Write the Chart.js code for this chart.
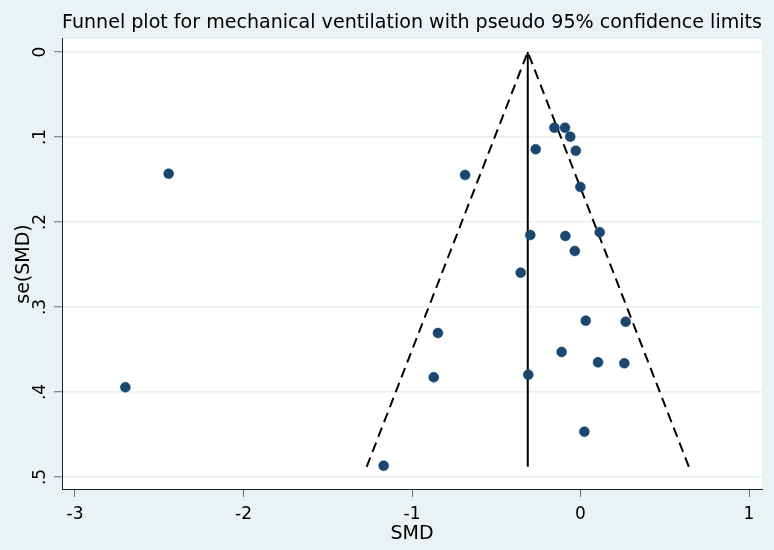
<!DOCTYPE html>
<html>
<head>
<meta charset="utf-8">
<script src="https://cdn.jsdelivr.net/npm/chart.js@4/dist/chart.umd.min.js"></script>
<style>
  html, body { margin: 0; padding: 0; background: #eaf2f3; }
  #wrap { width: 774px; height: 550px; }
</style>
</head>
<body>
<div id="wrap"><canvas id="c" width="774" height="550"></canvas></div>
<script>
// Study effect sizes (SMD) and their standard errors
const smd = [-0.155, -0.092, -0.061, -0.266, -0.028, -0.001, -0.298, -0.090, 0.114, -0.034,
             -0.355, -0.846, -0.871, -0.310, 0.031, 0.268, -0.112, 0.104, 0.260, 0.023,
             -2.444, -2.701, -0.685, -1.168];
const seSmd = [0.0891, 0.0891, 0.0996, 0.1145, 0.1161, 0.1588, 0.2153, 0.2165, 0.2121, 0.2341,
               0.2596, 0.3306, 0.3827, 0.3796, 0.3161, 0.3173, 0.3529, 0.3651, 0.3662, 0.4467,
               0.1432, 0.3945, 0.1447, 0.4867];

// Pooled estimate line and pseudo 95% confidence limits
const pooledX = [-0.313, -0.313];
const pooledY = [0, 0.488];
const limitX = [-1.269, -0.313, 0.643];
const limitY = [0.488, 0, 0.488];

// Axis ticks
const xTickValues = [-3, -2, -1, 0, 1];
const xTickLabels = ['-3', '-2', '-1', '0', '1'];
const yTickValues = [0, 0.1, 0.2, 0.3, 0.4, 0.5];
const yTickLabels = ['0', '.1', '.2', '.3', '.4', '.5'];

const FONT = '"DejaVu Sans", Verdana, sans-serif';

const toPts = (xs, ys) => xs.map((x, i) => ({ x: x, y: ys[i] }));

const decor = {
  id: 'decor',
  beforeDraw(chart) {
    const { ctx, chartArea: a } = chart;
    ctx.save();
    ctx.fillStyle = '#eaf2f3';
    ctx.fillRect(0, 0, chart.width, chart.height);
    ctx.fillStyle = '#ffffff';
    ctx.fillRect(a.left, a.top, a.right - a.left, a.bottom - a.top);
    ctx.restore();
  },
  afterDraw(chart) {
    const ys = chart.scales.y;
    const ctx = chart.ctx;
    ctx.save();
    ctx.font = '17px ' + FONT;
    ctx.fillStyle = '#000';
    ctx.textAlign = 'center';
    ctx.textBaseline = 'alphabetic';
    yTickValues.forEach((v, i) => {
      const py = ys.getPixelForValue(v);
      ctx.save();
      ctx.translate(45, py);
      ctx.rotate(-Math.PI / 2);
      ctx.fillText(yTickLabels[i], 0, 0);
      ctx.restore();
    });
    ctx.restore();
  }
};

new Chart(document.getElementById('c'), {
  type: 'scatter',
  data: {
    datasets: [
      {
        label: 'studies',
        data: toPts(smd, seSmd),
        backgroundColor: '#1a476f',
        borderColor: '#1a476f',
        borderWidth: 0.5,
        pointRadius: 5,
        order: 0
      },
      {
        label: 'pooled',
        type: 'line',
        data: toPts(pooledX, pooledY),
        borderColor: '#000',
        borderWidth: 2,
        pointRadius: 0,
        fill: false,
        order: 1
      },
      {
        label: 'limits',
        type: 'line',
        data: toPts(limitX, limitY),
        borderColor: '#000',
        borderWidth: 2,
        borderDash: [10, 6],
        pointRadius: 0,
        fill: false,
        order: 2
      }
    ]
  },
  options: {
    responsive: false,
    animation: false,
    layout: { padding: { left: 0, right: 12, top: 0, bottom: 0 } },
    plugins: {
      legend: { display: false },
      tooltip: { enabled: false },
      title: {
        display: true,
        fullSize: false,
        text: 'Funnel plot for mechanical ventilation with pseudo 95% confidence limits',
        color: '#000',
        font: { family: FONT, size: 19.4, weight: 'normal', lineHeight: 1.2 },
        padding: { top: 11.8, bottom: 3.9 }
      }
    },
    scales: {
      x: {
        type: 'linear',
        min: -3.077,
        max: 1.077,
        afterBuildTicks: (s) => { s.ticks = xTickValues.map(v => ({ value: v })); },
        afterFit: (s) => { s.height = 61; },
        ticks: {
          color: '#000',
          font: { family: FONT, size: 17, lineHeight: 1.2 },
          padding: 7.5,
          maxRotation: 0,
          autoSkip: false,
          callback: (v) => { const i = xTickValues.indexOf(v); return i >= 0 ? xTickLabels[i] : ''; }
        },
        grid: { display: true, drawOnChartArea: false, drawTicks: true, tickLength: 8, tickColor: '#6e6e6e', tickWidth: 1 },
        border: { display: true, color: '#222', width: 1 },
        title: {
          display: true,
          text: 'SMD',
          color: '#000',
          font: { family: FONT, size: 19, lineHeight: 1.2 },
          padding: { top: 0, bottom: 4.3 }
        }
      },
      y: {
        type: 'linear',
        reverse: true,
        min: -0.0153,
        max: 0.5141,
        afterBuildTicks: (s) => { s.ticks = yTickValues.map(v => ({ value: v })); },
        afterFit: (s) => { s.width = 62; },
        ticks: { display: false },
        grid: { display: true, drawOnChartArea: true, drawTicks: true, tickLength: 8, color: '#e8eff1', lineWidth: 1.5, tickColor: '#6e6e6e', tickWidth: 1 },
        border: { display: true, color: '#222', width: 1 },
        title: {
          display: true,
          text: 'se(SMD)',
          color: '#000',
          font: { family: FONT, size: 19, lineHeight: 1.2 },
          padding: { top: 12.6, bottom: 0 }
        }
      }
    }
  },
  plugins: [decor]
});
</script>
</body>
</html>
